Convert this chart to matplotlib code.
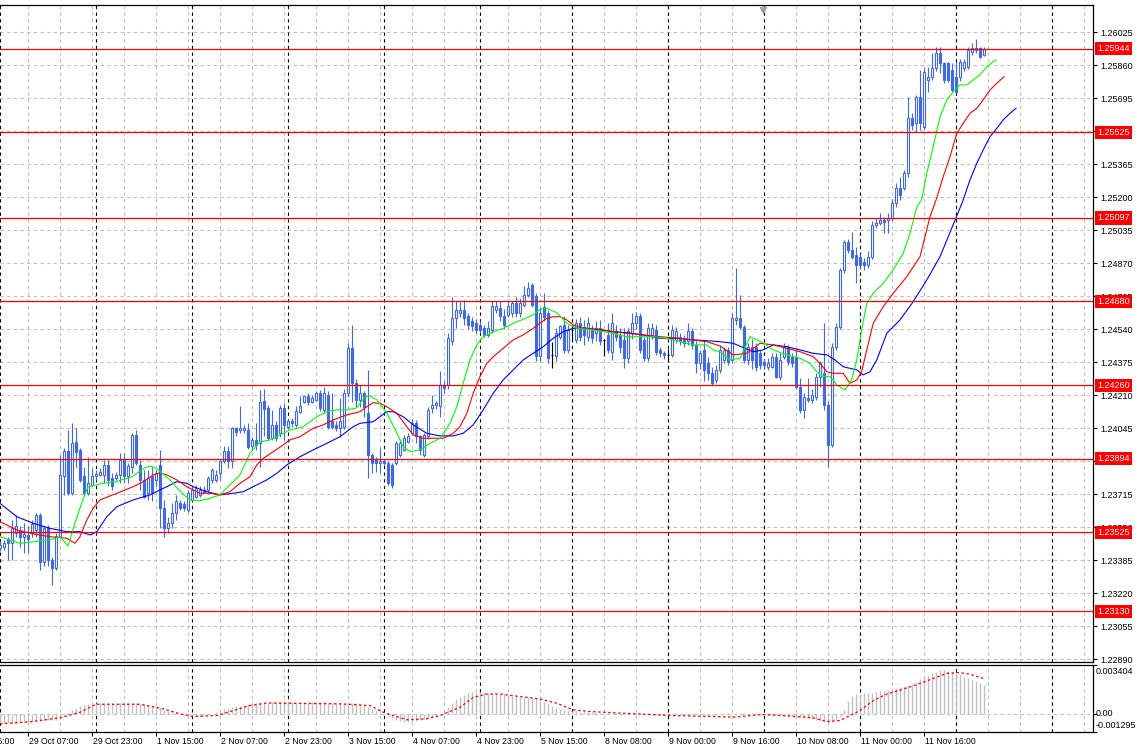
import matplotlib
matplotlib.use("Agg")
import matplotlib.pyplot as plt
import numpy as np
from matplotlib.transforms import blended_transform_factory as blend

# hourly bars, index 0 = 29 Oct 07:00
first_bar = -7

opens = [
    1.23445, 1.23454, 1.23490, 1.23470, 1.23520, 1.23529, 1.23500, 1.23512, 1.23520, 1.23534,
    1.23612, 1.23374, 1.23545, 1.23387, 1.23344, 1.23507, 1.23804, 1.23929, 1.23720, 1.23979,
    1.23937, 1.23804, 1.23720, 1.23762, 1.23804, 1.23812, 1.23812, 1.23862, 1.23795, 1.23795,
    1.23812, 1.23887, 1.23804, 1.23854, 1.24012, 1.23862, 1.23787, 1.23720, 1.23804, 1.23787,
    1.23862, 1.23645, 1.23545, 1.23570, 1.23620, 1.23670, 1.23667, 1.23637, 1.23687, 1.23704,
    1.23712, 1.23737, 1.23737, 1.23787, 1.23787, 1.23820, 1.23879, 1.23929, 1.23879, 1.24045,
    1.24037, 1.24037, 1.24037, 1.23954, 1.23987, 1.23970, 1.24179, 1.24145, 1.23995, 1.24062,
    1.24020, 1.24145, 1.24054, 1.24079, 1.24062, 1.24129, 1.24179, 1.24204, 1.24179, 1.24187,
    1.24220, 1.24137, 1.24212, 1.24079, 1.24062, 1.24045, 1.24054, 1.24220, 1.24445, 1.24270,
    1.24187, 1.24220, 1.24120, 1.23912, 1.23890, 1.23870, 1.23880, 1.23870, 1.23862, 1.23870,
    1.23912, 1.23937, 1.23979, 1.24020, 1.24070, 1.24004, 1.23912, 1.24004, 1.24145, 1.24162,
    1.24154, 1.24262, 1.24262, 1.24479, 1.24595, 1.24620, 1.24637, 1.24604, 1.24579, 1.24570,
    1.24560, 1.24545, 1.24512, 1.24537, 1.24637, 1.24645, 1.24604, 1.24612, 1.24620, 1.24670,
    1.24620, 1.24662, 1.24712, 1.24762, 1.24704, 1.24404, 1.24650, 1.24620, 1.24412, 1.24404,
    1.24504, 1.24562, 1.24437, 1.24537, 1.24487, 1.24570, 1.24550, 1.24504, 1.24537, 1.24520,
    1.24545, 1.24487, 1.24512, 1.24429, 1.24530, 1.24512, 1.24487, 1.24395, 1.24520, 1.24570,
    1.24604, 1.24487, 1.24395, 1.24512, 1.24537, 1.24437, 1.24420, 1.24412, 1.24412, 1.24487,
    1.24500, 1.24487, 1.24479, 1.24529, 1.24462, 1.24370, 1.24437, 1.24370, 1.24320, 1.24287,
    1.24336, 1.24387, 1.24436, 1.24387, 1.24587, 1.24595, 1.24553, 1.24387, 1.24453, 1.24453,
    1.24420, 1.24378, 1.24353, 1.24353, 1.24403, 1.24303, 1.24403, 1.24453, 1.24403, 1.24403,
    1.24253, 1.24136, 1.24195, 1.24186, 1.24203, 1.24303, 1.24320, 1.24161, 1.23962, 1.24453,
    1.24553, 1.24836, 1.24978, 1.24936, 1.24911, 1.24903, 1.24878, 1.24861, 1.24903, 1.25061,
    1.25070, 1.25087, 1.25087, 1.25095, 1.25170, 1.25245, 1.25245, 1.25320, 1.25595, 1.25570,
    1.25703, 1.25553, 1.25786, 1.25803, 1.25845, 1.25920, 1.25870, 1.25870, 1.25836, 1.25803,
    1.25803, 1.25845, 1.25853, 1.25928, 1.25945, 1.25945, 1.25911,
]
highs = [
    1.23479, 1.23487, 1.23504, 1.23587, 1.23612, 1.23554, 1.23570, 1.23554, 1.23587, 1.23620,
    1.23620, 1.23557, 1.23562, 1.23404, 1.23520, 1.23912, 1.23945, 1.24037, 1.24070, 1.24045,
    1.23945, 1.23854, 1.23904, 1.23845, 1.23837, 1.23845, 1.23887, 1.23887, 1.23820, 1.23829,
    1.23920, 1.23920, 1.23870, 1.24020, 1.24037, 1.23887, 1.23837, 1.23837, 1.23854, 1.23837,
    1.23937, 1.23687, 1.23604, 1.23670, 1.23712, 1.23687, 1.23679, 1.23737, 1.23754, 1.23762,
    1.23754, 1.23754, 1.23804, 1.23845, 1.23837, 1.23887, 1.23954, 1.23954, 1.24054, 1.24054,
    1.24155, 1.24062, 1.24070, 1.24003, 1.24070, 1.24237, 1.24240, 1.24162, 1.24137, 1.24080,
    1.24160, 1.24170, 1.24090, 1.24095, 1.24154, 1.24204, 1.24212, 1.24220, 1.24212, 1.24230,
    1.24237, 1.24250, 1.24230, 1.24220, 1.24080, 1.24195, 1.24240, 1.24470, 1.24562, 1.24290,
    1.24260, 1.24230, 1.24336, 1.23920, 1.23900, 1.23945, 1.23890, 1.23880, 1.23870, 1.23980,
    1.23990, 1.24010, 1.24020, 1.24090, 1.24087, 1.24012, 1.24020, 1.24150, 1.24212, 1.24180,
    1.24329, 1.24280, 1.24520, 1.24704, 1.24679, 1.24680, 1.24687, 1.24620, 1.24600, 1.24590,
    1.24580, 1.24560, 1.24580, 1.24679, 1.24680, 1.24679, 1.24640, 1.24680, 1.24680, 1.24700,
    1.24695, 1.24754, 1.24779, 1.24770, 1.24720, 1.24654, 1.24720, 1.24636, 1.24478, 1.24545,
    1.24562, 1.24604, 1.24560, 1.24562, 1.24590, 1.24600, 1.24587, 1.24600, 1.24560, 1.24580,
    1.24587, 1.24490, 1.24570, 1.24620, 1.24560, 1.24545, 1.24545, 1.24545, 1.24620, 1.24629,
    1.24620, 1.24500, 1.24570, 1.24570, 1.24560, 1.24450, 1.24430, 1.24440, 1.24560, 1.24550,
    1.24520, 1.24510, 1.24570, 1.24545, 1.24480, 1.24437, 1.24487, 1.24400, 1.24350, 1.24360,
    1.24460, 1.24450, 1.24450, 1.24620, 1.24845, 1.24711, 1.24560, 1.24470, 1.24490, 1.24470,
    1.24436, 1.24390, 1.24395, 1.24420, 1.24420, 1.24420, 1.24470, 1.24460, 1.24420, 1.24436,
    1.24295, 1.24220, 1.24295, 1.24240, 1.24320, 1.24380, 1.24570, 1.24180, 1.24470, 1.24570,
    1.24845, 1.24987, 1.24990, 1.25028, 1.24953, 1.24920, 1.24895, 1.24930, 1.25080, 1.25095,
    1.25120, 1.25100, 1.25120, 1.25190, 1.25270, 1.25300, 1.25336, 1.25703, 1.25620, 1.25711,
    1.25836, 1.25845, 1.25853, 1.25920, 1.25953, 1.25953, 1.25878, 1.25878, 1.25870, 1.25878,
    1.25890, 1.25890, 1.25953, 1.25970, 1.25990, 1.25953, 1.25950,
]
lows = [
    1.23434, 1.23437, 1.23387, 1.23387, 1.23504, 1.23454, 1.23420, 1.23420, 1.23504, 1.23504,
    1.23334, 1.23354, 1.23354, 1.23262, 1.23337, 1.23504, 1.23712, 1.23712, 1.23712, 1.23854,
    1.23779, 1.23712, 1.23712, 1.23754, 1.23787, 1.23804, 1.23770, 1.23754, 1.23737, 1.23787,
    1.23770, 1.23770, 1.23770, 1.23820, 1.23862, 1.23737, 1.23695, 1.23687, 1.23679, 1.23754,
    1.23545, 1.23504, 1.23520, 1.23545, 1.23587, 1.23637, 1.23634, 1.23629, 1.23679, 1.23695,
    1.23704, 1.23720, 1.23729, 1.23770, 1.23779, 1.23787, 1.23870, 1.23845, 1.23845, 1.24004,
    1.24020, 1.24020, 1.23941, 1.23937, 1.23937, 1.23853, 1.24004, 1.23987, 1.23987, 1.23980,
    1.24000, 1.23987, 1.24040, 1.24054, 1.24050, 1.24120, 1.24170, 1.24160, 1.24170, 1.24180,
    1.24130, 1.24120, 1.24040, 1.24040, 1.24030, 1.24000, 1.24040, 1.24200, 1.24179, 1.24150,
    1.24150, 1.24100, 1.23795, 1.23820, 1.23828, 1.23820, 1.23860, 1.23762, 1.23745, 1.23860,
    1.23900, 1.23930, 1.23970, 1.24010, 1.23970, 1.23910, 1.23900, 1.23990, 1.24120, 1.24140,
    1.24104, 1.24220, 1.24240, 1.24460, 1.24545, 1.24600, 1.24562, 1.24540, 1.24530, 1.24520,
    1.24520, 1.24500, 1.24500, 1.24520, 1.24620, 1.24580, 1.24540, 1.24600, 1.24600, 1.24600,
    1.24600, 1.24650, 1.24700, 1.24650, 1.24380, 1.24380, 1.24580, 1.24370, 1.24345, 1.24380,
    1.24490, 1.24420, 1.24420, 1.24480, 1.24470, 1.24480, 1.24462, 1.24480, 1.24470, 1.24480,
    1.24460, 1.24404, 1.24420, 1.24387, 1.24480, 1.24420, 1.24345, 1.24370, 1.24490, 1.24540,
    1.24420, 1.24380, 1.24380, 1.24490, 1.24410, 1.24400, 1.24390, 1.24380, 1.24400, 1.24470,
    1.24460, 1.24450, 1.24460, 1.24440, 1.24320, 1.24340, 1.24279, 1.24287, 1.24262, 1.24270,
    1.24320, 1.24370, 1.24360, 1.24370, 1.24560, 1.24540, 1.24370, 1.24360, 1.24340, 1.24330,
    1.24340, 1.24340, 1.24336, 1.24345, 1.24295, 1.24287, 1.24390, 1.24360, 1.24353, 1.24240,
    1.24120, 1.24095, 1.24178, 1.24170, 1.24186, 1.24253, 1.24136, 1.23853, 1.23953, 1.24436,
    1.24540, 1.24820, 1.24920, 1.24890, 1.24770, 1.24840, 1.24836, 1.24845, 1.24890, 1.25045,
    1.25060, 1.25020, 1.25020, 1.25080, 1.25150, 1.25187, 1.25236, 1.25300, 1.25536, 1.25528,
    1.25536, 1.25536, 1.25728, 1.25786, 1.25830, 1.25820, 1.25770, 1.25778, 1.25728, 1.25720,
    1.25780, 1.25830, 1.25840, 1.25911, 1.25920, 1.25895, 1.25905,
]
closes = [
    1.23462, 1.23470, 1.23470, 1.23545, 1.23554, 1.23504, 1.23517, 1.23490, 1.23567, 1.23612,
    1.23374, 1.23545, 1.23387, 1.23344, 1.23507, 1.23812, 1.23929, 1.23720, 1.23970, 1.23929,
    1.23787, 1.23720, 1.23770, 1.23804, 1.23817, 1.23829, 1.23862, 1.23787, 1.23754, 1.23812,
    1.23887, 1.23804, 1.23857, 1.24012, 1.23870, 1.23787, 1.23704, 1.23795, 1.23720, 1.23820,
    1.23645, 1.23545, 1.23570, 1.23620, 1.23679, 1.23645, 1.23645, 1.23720, 1.23737, 1.23745,
    1.23737, 1.23729, 1.23795, 1.23837, 1.23812, 1.23879, 1.23929, 1.23879, 1.24045, 1.24029,
    1.24045, 1.24045, 1.23953, 1.23987, 1.23962, 1.24179, 1.24140, 1.23995, 1.24062, 1.23995,
    1.24145, 1.24062, 1.24079, 1.24070, 1.24129, 1.24154, 1.24204, 1.24179, 1.24195, 1.24220,
    1.24145, 1.24220, 1.24054, 1.24054, 1.24045, 1.24079, 1.24220, 1.24445, 1.24270, 1.24187,
    1.24220, 1.24150, 1.23912, 1.23870, 1.23870, 1.23880, 1.23870, 1.23770, 1.23762, 1.23970,
    1.23970, 1.23995, 1.24004, 1.24070, 1.24004, 1.23937, 1.24012, 1.24137, 1.24162, 1.24170,
    1.24262, 1.24245, 1.24495, 1.24595, 1.24637, 1.24637, 1.24595, 1.24562, 1.24554, 1.24537,
    1.24537, 1.24512, 1.24545, 1.24654, 1.24654, 1.24604, 1.24562, 1.24654, 1.24670, 1.24620,
    1.24670, 1.24712, 1.24745, 1.24662, 1.24404, 1.24620, 1.24600, 1.24395, 1.24412, 1.24520,
    1.24554, 1.24437, 1.24537, 1.24537, 1.24570, 1.24504, 1.24512, 1.24570, 1.24495, 1.24545,
    1.24479, 1.24487, 1.24437, 1.24570, 1.24504, 1.24454, 1.24395, 1.24529, 1.24570, 1.24604,
    1.24437, 1.24395, 1.24545, 1.24545, 1.24429, 1.24420, 1.24412, 1.24412, 1.24537, 1.24529,
    1.24480, 1.24470, 1.24529, 1.24462, 1.24370, 1.24420, 1.24337, 1.24320, 1.24270, 1.24337,
    1.24436, 1.24436, 1.24378, 1.24595, 1.24595, 1.24553, 1.24387, 1.24453, 1.24387, 1.24353,
    1.24361, 1.24361, 1.24370, 1.24403, 1.24303, 1.24387, 1.24453, 1.24378, 1.24370, 1.24253,
    1.24136, 1.24203, 1.24186, 1.24211, 1.24303, 1.24370, 1.24161, 1.23962, 1.24453, 1.24553,
    1.24836, 1.24978, 1.24936, 1.24903, 1.24861, 1.24861, 1.24861, 1.24903, 1.25061, 1.25070,
    1.25087, 1.25078, 1.25095, 1.25170, 1.25245, 1.25210, 1.25320, 1.25595, 1.25561, 1.25703,
    1.25570, 1.25828, 1.25803, 1.25845, 1.25920, 1.25870, 1.25786, 1.25786, 1.25736, 1.25728,
    1.25878, 1.25878, 1.25936, 1.25945, 1.25936, 1.25903, 1.25940,
]

# Alligator lines (already shifted)
lips_x = [-7, -2, 5.5, 8, 10, 12, 14, 15, 18, 22, 26, 29, 30.5, 32, 34, 35.5, 37, 39, 40.5, 43,
          45.5, 48, 50.5, 53, 55.5, 58, 60.5, 63, 65.5, 68.8, 72.2, 74.7, 77.2, 79.7, 82.2, 84.25,
          85.5, 87.2, 89.7, 92.2, 93.8, 95.5, 98, 100.5, 103, 105.5, 107.2, 108.8, 110.5, 112.2,
          113.8, 116.3, 118.8, 121.3, 123.8, 126.3, 128, 129.7, 132.2, 134.7, 137.2, 141.3, 145.5,
          149.7, 153, 156.3, 159.7, 163, 166.3, 169.7, 171.3, 173, 175.5, 178, 180.5, 183.8, 186.3,
          189.7, 193, 195.5, 197.2, 198.8, 200.5, 202.2, 204.25, 205.9, 207.2, 208.4, 209.7, 211.3,
          213.8, 216.3, 218.8, 220.5, 222.2, 223.4, 224.7, 226.3, 228, 229.7, 231.3, 233, 234.7,
          236.3, 238, 239.7, 241.3, 242]
lips_y = [1.23503, 1.23470, 1.23487, 1.23503, 1.23457, 1.23587, 1.23703, 1.23753, 1.23767, 1.23778,
          1.23803, 1.23845, 1.23857, 1.23845, 1.23812, 1.23787, 1.23753, 1.23712, 1.23687, 1.23683,
          1.23695, 1.23712, 1.23762, 1.23812, 1.23922, 1.23977, 1.23987, 1.24012, 1.24037, 1.24053,
          1.24103, 1.24128, 1.24137, 1.24137, 1.24147, 1.24202, 1.24207, 1.24187, 1.24122, 1.24022,
          1.23953, 1.23928, 1.23937, 1.23970, 1.23995, 1.24070, 1.24153, 1.24270, 1.24387, 1.24462,
          1.24503, 1.24528, 1.24545, 1.24570, 1.24590, 1.24612, 1.24640, 1.24645, 1.24623, 1.24570,
          1.24545, 1.24537, 1.24523, 1.24503, 1.24503, 1.24503, 1.24495, 1.24478, 1.24462, 1.24462,
          1.24437, 1.24427, 1.24387, 1.24395, 1.24503, 1.24472, 1.24437, 1.24412, 1.24395, 1.24370,
          1.24328, 1.24303, 1.24303, 1.24262, 1.24237, 1.24287, 1.24387, 1.24537, 1.24670, 1.24720,
          1.24770, 1.24837, 1.24920, 1.25020, 1.25153, 1.25187, 1.25320, 1.25453, 1.25603, 1.25687,
          1.25728, 1.25762, 1.25762, 1.25787, 1.25812, 1.25853, 1.25878, 1.25887]

teeth_x = [-7, -2.8, 1.3, 5.5, 9.7, 11.75, 13, 14.7, 16.3, 18, 22.2, 26.3, 28.8, 31.3, 33, 34.7,
           37.2, 39.7, 43, 45.5, 48, 50.5, 53, 55.5, 57.2, 58.8, 61.3, 63.8, 65.5, 68, 71.3, 73.8,
           76.3, 79.7, 83, 84.7, 86.3, 88, 89.7, 92.2, 94.7, 96.3, 98.8, 101.3, 103.8, 106.3, 108,
           109.7, 111.3, 113, 114.7, 116.3, 118.8, 121.3, 123.8, 126.3, 128, 129.7, 131.3, 133,
           134.7, 136.3, 138.8, 143, 146.3, 149.7, 153.8, 158, 163, 166.3, 169.7, 173, 176.3, 179.7,
           183, 186.3, 189.7, 193, 196.3, 198, 199.7, 201.3, 203.8, 205.5, 207.2, 208.4, 209.7,
           211.3, 213.8, 216.3, 219.7, 223, 225.5, 227.2, 228.8, 230.5, 232.2, 233.8, 235.5, 237.2,
           238.8, 240.5, 242.2, 244]
teeth_y = [1.23578, 1.23537, 1.23517, 1.23503, 1.23495, 1.23470, 1.23503, 1.23587, 1.23645, 1.23687,
           1.23720, 1.23753, 1.23778, 1.23812, 1.23823, 1.23812, 1.23787, 1.23753, 1.23720, 1.23720,
           1.23712, 1.23728, 1.23770, 1.23803, 1.23862, 1.23895, 1.23928, 1.23962, 1.23987, 1.24003,
           1.24045, 1.24062, 1.24087, 1.24112, 1.24128, 1.24153, 1.24173, 1.24170, 1.24153, 1.24120,
           1.24053, 1.24012, 1.23995, 1.23995, 1.23995, 1.24020, 1.24053, 1.24120, 1.24220, 1.24303,
           1.24370, 1.24403, 1.24445, 1.24487, 1.24512, 1.24545, 1.24570, 1.24595, 1.24603, 1.24603,
           1.24587, 1.24562, 1.24545, 1.24540, 1.24528, 1.24520, 1.24512, 1.24503, 1.24495, 1.24487,
           1.24478, 1.24457, 1.24412, 1.24420, 1.24470, 1.24462, 1.24445, 1.24428, 1.24403, 1.24370,
           1.24328, 1.24320, 1.24320, 1.24270, 1.24287, 1.24328, 1.24437, 1.24570, 1.24653, 1.24720,
           1.24803, 1.24903, 1.25103, 1.25197, 1.25303, 1.25403, 1.25520, 1.25570, 1.25620, 1.25645,
           1.25687, 1.25737, 1.25770, 1.25803]

jaw_x = [-7, -2.8, 1.3, 5.5, 9.7, 13, 15.5, 17.2, 19.7, 22.2, 26.3, 30.5, 33, 34.7, 37.2, 39.7,
         41.3, 44.7, 48, 51.3, 53.8, 56.3, 59.7, 62.2, 64.7, 68, 71.3, 74.7, 78, 81.3, 83, 86.3,
         89.7, 91.3, 93.8, 96.3, 99.7, 103, 106.3, 108.8, 111.3, 113.8, 116.3, 118.8, 121.3, 123.8,
         126.3, 128.8, 131.3, 133.8, 136.3, 139.7, 143, 146.3, 149.7, 153.8, 158, 162.2, 166.3,
         169.7, 173, 176.3, 181.3, 183.8, 186.3, 189.7, 193, 196.3, 199.7, 201.75, 203.8, 205.5,
         207.2, 208.8, 210.5, 212.2, 214.7, 218, 221.3, 224.7, 228, 232.2, 233.8, 235.5, 237.2,
         238.8, 240.5, 242.2, 243.8, 245.5, 247]
jaw_y = [1.23670, 1.23603, 1.23570, 1.23545, 1.23528, 1.23528, 1.23512, 1.23528, 1.23603, 1.23653,
         1.23687, 1.23712, 1.23737, 1.23753, 1.23778, 1.23770, 1.23753, 1.23728, 1.23712, 1.23720,
         1.23728, 1.23753, 1.23787, 1.23820, 1.23862, 1.23903, 1.23937, 1.23970, 1.24003, 1.24053,
         1.24070, 1.24078, 1.24128, 1.24128, 1.24103, 1.24062, 1.24020, 1.24007, 1.24007, 1.24020,
         1.24062, 1.24137, 1.24220, 1.24287, 1.24337, 1.24387, 1.24420, 1.24453, 1.24495, 1.24528,
         1.24545, 1.24545, 1.24537, 1.24528, 1.24523, 1.24512, 1.24495, 1.24495, 1.24487, 1.24483,
         1.24478, 1.24470, 1.24428, 1.24437, 1.24462, 1.24453, 1.24437, 1.24420, 1.24412, 1.24387,
         1.24353, 1.24345, 1.24337, 1.24312, 1.24328, 1.24387, 1.24520, 1.24587, 1.24678, 1.24787,
         1.24903, 1.25107, 1.25187, 1.25287, 1.25370, 1.25437, 1.25503, 1.25545, 1.25587, 1.25620,
         1.25645]

# MACD main (histogram) per bar and its signal line
macd = [
    -0.00066, -0.00066, -0.00065, -0.00064, -0.00063, -0.00062,
    -0.00060, -0.00058, -0.00056, -0.00054, -0.00052, -0.00050, -0.00048, -0.00046, -0.00042, -0.00036,
    -0.00020, 0.00002, 0.00022, 0.00038, 0.00050, 0.00060, 0.00066, 0.00070,
    0.00072, 0.00073, 0.00074, 0.00074, 0.00074, 0.00074, 0.00073, 0.00073, 0.00072, 0.00072, 0.00071, 0.00070,
    0.00066, 0.00060, 0.00054, 0.00046, 0.00038, 0.00028, 0.00018, 0.00010, 0.00003,
    -0.00004, -0.00010, -0.00014, -0.00017, -0.00018, -0.00016, -0.00012, -0.00008, -0.00002,
    0.00010, 0.00020, 0.00030, 0.00038, 0.00045, 0.00050, 0.00055, 0.00060, 0.00064, 0.00068, 0.00071, 0.00074, 0.00076,
    0.00077, 0.00078, 0.00078, 0.00078, 0.00078, 0.00078, 0.00078, 0.00077, 0.00077, 0.00077,
    0.00077, 0.00078, 0.00078, 0.00078, 0.00078, 0.00077, 0.00076, 0.00075, 0.00074,
    0.00074, 0.00075, 0.00076, 0.00072, 0.00066, 0.00058, 0.00045, 0.00032, 0.00018, 0.00006,
    -0.00008, -0.00020, -0.00032, -0.00042, -0.00050, -0.00056, -0.00058, -0.00056, -0.00052, -0.00046,
    -0.00040, -0.00032, -0.00022, -0.00012, -0.00004,
    0.00020, 0.00048, 0.00075, 0.00100, 0.00118, 0.00132, 0.00142, 0.00148, 0.00150, 0.00150,
    0.00148, 0.00145, 0.00142, 0.00140, 0.00138, 0.00135, 0.00130, 0.00126, 0.00122, 0.00118,
    0.00116, 0.00114, 0.00110, 0.00106, 0.00100,
    0.00080, 0.00066, 0.00052, 0.00040, 0.00032, 0.00026, 0.00022, 0.00018,
    0.00016, 0.00014, 0.00012, 0.00011, 0.00010, 0.00008, 0.00006, 0.00005, 0.00004, 0.00004,
    0.00003, 0.00002, 0.00001, 0.00000, -0.00001, -0.00002, -0.00003, -0.00004, -0.00005, -0.00006,
    -0.00007, -0.00008, -0.00008, -0.00009, -0.00010, -0.00010, -0.00011,
    -0.00010, -0.00010, -0.00011, -0.00012, -0.00012, -0.00011, -0.00010, -0.00008,
    -0.00005, -0.00002, 0.00000, 0.00002, 0.00004, 0.00006, 0.00006, 0.00005, 0.00003, 0.00001,
    -0.00001, -0.00003, -0.00005,
    -0.00007, -0.00009, -0.00011, -0.00013, -0.00015, -0.00017, -0.00019, -0.00021, -0.00024,
    -0.00028, -0.00034, -0.00040, -0.00048, -0.00055, -0.00060, -0.00062, -0.00058, -0.00046, -0.00020,
    0.00022, 0.00088, 0.00125, 0.00137, 0.00139, 0.00141, 0.00143, 0.00147, 0.00151, 0.00155,
    0.00160, 0.00165, 0.00172, 0.00178, 0.00184, 0.00190, 0.00200, 0.00210, 0.00222, 0.00240,
    0.00258, 0.00272, 0.00284, 0.00294, 0.00302, 0.00306, 0.00300, 0.00290, 0.00280, 0.00268,
    0.00258, 0.00248, 0.00238, 0.00228, 0.00216, 0.00201,
]
signal_x = [-7, 0.5, 8, 13, 17, 28, 33.8, 38, 41.3, 47.2, 51.3, 55.5, 59.7, 78, 85.5, 88.8, 94.7,
            99.7, 103, 108, 111.3, 114.7, 118, 121.3, 128, 132.2, 136.3, 140.5, 148.8, 161.3, 171.3,
            176.3, 183.8, 192.2, 196.3, 199.7, 203, 205.5, 208, 211.3, 214.7, 218, 221.3, 224.7, 228,
            229.7, 233, 235.5, 239]
signal_y = [-0.00072, -0.00058, -0.00030, 0.00009, 0.00065, 0.00065, 0.00033, -0.00002, -0.00021,
            -0.00014, 0.00021, 0.00056, 0.00074, 0.00068, 0.00056, 0.00009, -0.00044, -0.00037,
            -0.00014, 0.00044, 0.00113, 0.00137, 0.00137, 0.00125, 0.00102, 0.00072, 0.00026,
            0.00014, 0.00002, -0.00014, -0.00021, -0.00025, -0.00007, -0.00021, -0.00030, -0.00056,
            -0.00049, -0.00014, 0.00021, 0.00090, 0.00137, 0.00164, 0.00194, 0.00229, 0.00264,
            0.00282, 0.00287, 0.00276, 0.00245]

levels = [1.25944, 1.25525, 1.25097, 1.24680, 1.24260, 1.23894, 1.23525, 1.23130]
price_ticks = [1.22890, 1.23055, 1.23220, 1.23385, 1.23550, 1.23715, 1.23880, 1.24045, 1.24210,
               1.24375, 1.24540, 1.24705, 1.24870, 1.25035, 1.25200, 1.25365, 1.25530, 1.25695,
               1.25860, 1.26025]
date_pos = [-16, 0, 16, 32, 48, 64, 80, 96, 112, 128, 144, 160, 176, 192, 208, 224]
date_labels = ["28 Oct 15:00", "29 Oct 07:00", "29 Oct 23:00", "1 Nov 15:00", "2 Nov 07:00",
               "2 Nov 23:00", "3 Nov 15:00", "4 Nov 07:00", "4 Nov 23:00", "5 Nov 15:00",
               "8 Nov 08:00", "9 Nov 00:00", "9 Nov 16:00", "10 Nov 08:00", "11 Nov 00:00",
               "11 Nov 16:00"]
day_breaks = [-7, 17, 41, 65, 89, 113, 136, 160, 184, 208, 232, 256]
osc_ticks = [-0.001295, 0.0, 0.003404]
osc_labels = ["-0.001295", "0.00", "0.003404"]

W, H = 1140, 754
BLUE = "#4169e1"
GRID = "#c0c0c0"
DASH = (0, (3, 3))
plt.rcParams["font.family"] = ["Liberation Sans", "DejaVu Sans"]

fig = plt.figure(figsize=(W / 100, H / 100), dpi=100)
ax = fig.add_axes([0, 1 - 662 / H, 1093 / W, 657 / H])
ax2 = fig.add_axes([0, 1 - 732 / H, 1093 / W, 67 / H])

# candles
x = np.arange(first_bar, first_bar + len(closes))
o, h, l, c = (np.array(v) for v in (opens, highs, lows, closes))
doji = np.isclose(o, c)
edge = ["black" if d else BLUE for d in doji]
fill = ["white" if (cc >= oo) else BLUE for oo, cc in zip(o, c)]
ax.vlines(x, l, h, colors=edge, lw=0.8, zorder=3)
ax.bar(x, np.abs(c - o), bottom=np.minimum(o, c), width=0.5, color=fill,
       edgecolor=edge, lw=0.8, zorder=4)

ax.plot(jaw_x, jaw_y, color="#0000ff", lw=0.8, zorder=5)
ax.plot(teeth_x, teeth_y, color="#ff0000", lw=0.8, zorder=5)
ax.plot(lips_x, lips_y, color="#00ff00", lw=0.8, zorder=5)

tr = blend(ax.transAxes, ax.transData)
for v in levels:
    ax.axhline(v, color="#ff0000", lw=0.9, zorder=6)
    ax.annotate(f"{v:.5f}", xy=(1, v), xycoords=tr, xytext=(4, 0), textcoords="offset pixels",
                ha="left", va="center", color="white", fontsize=6.5,
                bbox=dict(boxstyle="square,pad=0.25", fc="#ff0000", ec="none"),
                zorder=10, annotation_clip=False)

# grid and day separators
for a in (ax, ax2):
    for gx in range(0, 267, 8):
        a.axvline(gx, color=GRID, ls=DASH, lw=0.8, zorder=1)
    for d in day_breaks:
        a.axvline(d, color="black", ls=DASH, lw=0.8, zorder=1.5)
    a.set_xlim(-7, 266.25)
    a.spines["left"].set_visible(False)
    for s in ("top", "right", "bottom"):
        a.spines[s].set_linewidth(0.9)
    a.yaxis.tick_right()

for v in price_ticks:
    ax.axhline(v, color=GRID, ls=DASH, lw=0.8, zorder=1)
ax.set_ylim(1.228765, 1.261615)
ax.set_yticks(price_ticks)
ax.set_yticklabels([f"{v:.5f}" for v in price_ticks])
ax.tick_params(axis="y", right=True, left=False, direction="out", length=3, width=0.8,
               pad=2, labelsize=6.5)
ax.set_xticks([])

# shift marker
ax.plot([183.75], [0.993], marker="v", ms=4, color="#a0a0a0",
        transform=blend(ax.transData, ax.transAxes), clip_on=False, zorder=10)

# MACD panel
ax2.set_ylim(-0.001295, 0.003404)
ax2.axhline(0, color=GRID, ls=DASH, lw=0.8, zorder=1)
xm = np.arange(first_bar, first_bar + len(macd))
ax2.vlines(xm, 0, macd, colors="#c0c0c0", lw=1.0, zorder=3)
ax2.plot(signal_x, signal_y, color="#ff0000", lw=0.9, ls=(0, (2, 2)), zorder=4)
ax2.set_yticks(osc_ticks)
ax2.set_yticklabels([])
ax2.tick_params(axis="y", right=True, left=False, direction="out", length=3, width=0.8)
tr2 = blend(ax2.transAxes, ax2.transData)
for v, lab, dy in zip(osc_ticks, osc_labels, (7, 0, -7)):
    ax2.annotate(lab, xy=(1, v), xycoords=tr2, xytext=(3, dy), textcoords="offset pixels",
                 ha="left", va="center", fontsize=6.5, annotation_clip=False)

ax2.set_xticks([p for p in date_pos if p >= -7])
ax2.set_xticklabels([])
ax2.tick_params(axis="x", direction="out", length=3, width=0.8)
trx = blend(ax2.transData, ax2.transAxes)
for p, lab in zip(date_pos, date_labels):
    ax2.annotate(lab, xy=(p, 0), xycoords=trx, xytext=(1, -5), textcoords="offset pixels",
                 ha="left", va="top", fontsize=6.2, annotation_clip=False)

fig.savefig("out.png", dpi=100)
